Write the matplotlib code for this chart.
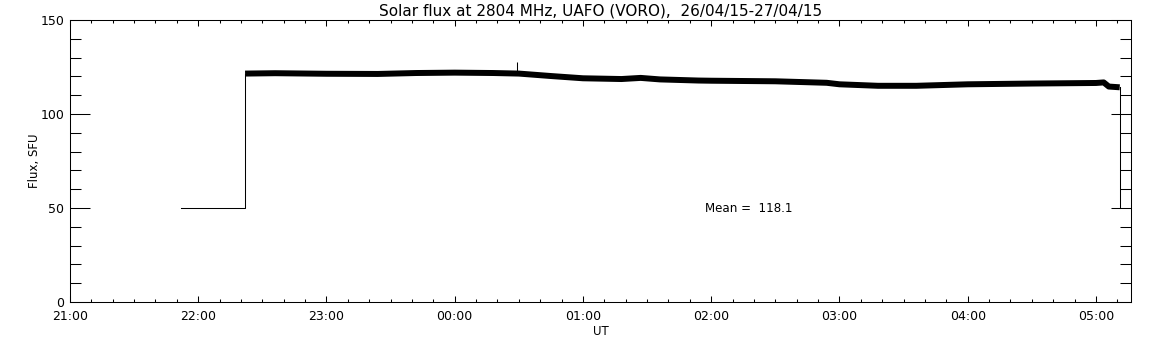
import matplotlib
matplotlib.use("Agg")
import matplotlib.pyplot as plt
from matplotlib.ticker import MultipleLocator, FuncFormatter

# ------------------------------------------------------------
# Data (time = hours after 21:00 UT on 26/04/15)
# ------------------------------------------------------------
TITLE = "Solar flux at 2804 MHz, UAFO (VORO),  26/04/15-27/04/15"
MEAN_FLUX = 118.1

# start-up / shut-down level (thin line)
step_time = [0.866, 1.365, 1.365]
step_flux = [50.0, 50.0, 121.5]

# main record, smoothed centre of the noisy trace (drawn as a thick band)
flux_time = [1.365, 1.6, 2.0, 2.4, 2.7, 3.0, 3.3, 3.5, 3.75, 4.0, 4.3,
             4.45, 4.6, 4.9, 5.0, 5.5, 5.9, 6.0, 6.3, 6.6, 7.0, 7.5, 8.0,
             8.06, 8.1, 8.185]
flux_val = [121.5, 121.7, 121.4, 121.3, 121.8, 122.0, 121.8, 121.5,
            120.2, 119.0, 118.6, 119.2, 118.4, 117.8, 117.7, 117.4, 116.6,
            115.8, 115.0, 115.0, 115.8, 116.2, 116.5, 116.8, 114.6, 114.2]

# end of record: drop back to 50
end_time = [8.187, 8.187]
end_flux = [114.2, 50.0]

# single spike
spike_time = 3.485
spike_lo, spike_hi = 121.5, 127.5

X_MAX = 8.273
hour_labels = ["21:00", "22:00", "23:00", "00:00", "01:00",
               "02:00", "03:00", "04:00", "05:00"]

# ------------------------------------------------------------
# Plot
# ------------------------------------------------------------
plt.rcParams['font.family'] = ['DejaVu Sans']
W, H, DPI = 1152, 345, 100
fig = plt.figure(figsize=(W / DPI, H / DPI), dpi=DPI)
ax = fig.add_axes([70 / W, 43 / H, 1061 / W, 282 / H])

lw = 0.75
ax.plot(step_time, step_flux, color='black', lw=lw)
ax.plot(end_time, end_flux, color='black', lw=lw)
ax.plot(flux_time, flux_val, color='black', lw=4.3, solid_capstyle='butt')
ax.vlines(spike_time, spike_lo, spike_hi, color='black', lw=lw)

ax.text(4.95, 49.5, f"Mean =  {MEAN_FLUX}", fontsize=8.6, va='center', ha='left')

ax.set_xlim(0, X_MAX)
ax.set_ylim(0, 150)

ax.xaxis.set_major_locator(MultipleLocator(1))
ax.xaxis.set_minor_locator(MultipleLocator(1 / 6))
ax.xaxis.set_major_formatter(FuncFormatter(
    lambda v, p: hour_labels[int(round(v))] if 0 <= round(v) < len(hour_labels) else ""))
ax.yaxis.set_major_locator(MultipleLocator(50))
ax.yaxis.set_minor_locator(MultipleLocator(10))

ax.tick_params(axis='both', which='both', direction='in', top=True, right=True,
               width=lw, colors='black', labelsize=9)
ax.tick_params(axis='x', which='major', length=4.5, pad=6)
ax.tick_params(axis='x', which='minor', length=2.2)
ax.tick_params(axis='y', which='major', length=14.5, pad=4)
ax.tick_params(axis='y', which='minor', length=8)
for s in ax.spines.values():
    s.set_linewidth(lw)

ax.set_title(TITLE, fontsize=11, pad=3)
ax.set_xlabel("UT", fontsize=8.5, labelpad=1)
ax.set_ylabel("Flux, SFU", fontsize=8.5, labelpad=0)

fig.savefig("out.png", dpi=DPI)
